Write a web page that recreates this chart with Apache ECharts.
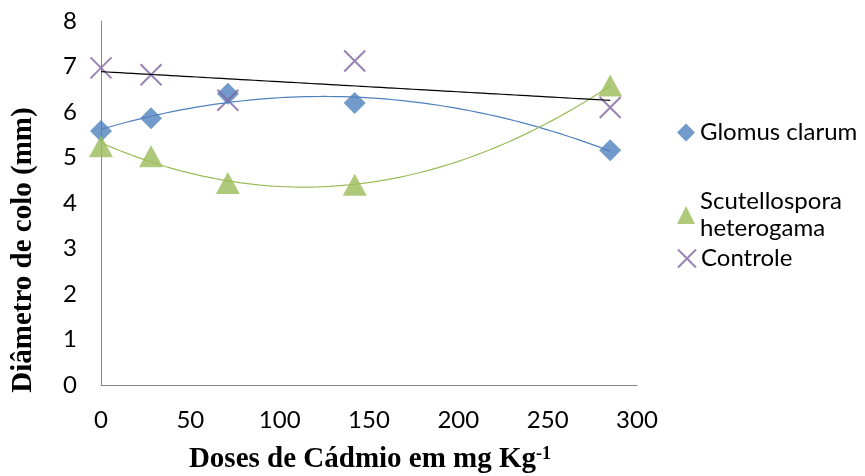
<!DOCTYPE html>
<html>
<head>
<meta charset="utf-8">
<script src="https://cdn.jsdelivr.net/npm/echarts@6/dist/echarts.min.js"></script>
<style>html,body{margin:0;padding:0;background:#fff}#c{width:865px;height:476px}</style>
</head>
<body>
<div id="c"></div>
<script>
var doses = [0, 28, 71, 142, 285];
var glomus = [5.58, 5.86, 6.40, 6.20, 5.16];
var scutello = [5.25, 5.03, 4.44, 4.40, 6.58];
var controle = [6.97, 6.82, 6.26, 7.12, 6.10];
var xTicks = {min: 0, max: 300, interval: 50};
var yTicks = {min: 0, max: 8, interval: 1};

function polyfit(xs, ys, deg) {
  var n = deg + 1, A = [], b = [];
  for (var i = 0; i < n; i++) {
    A.push([]); b.push(0);
    for (var j = 0; j < n; j++) {
      var s = 0; for (var k = 0; k < xs.length; k++) s += Math.pow(xs[k], i + j);
      A[i].push(s);
    }
    for (var k = 0; k < xs.length; k++) b[i] += ys[k] * Math.pow(xs[k], i);
  }
  for (var c = 0; c < n; c++) {
    var p = c; for (var r = c + 1; r < n; r++) if (Math.abs(A[r][c]) > Math.abs(A[p][c])) p = r;
    var t = A[c]; A[c] = A[p]; A[p] = t; var tb = b[c]; b[c] = b[p]; b[p] = tb;
    for (var r = c + 1; r < n; r++) {
      var f = A[r][c] / A[c][c];
      for (var j = c; j < n; j++) A[r][j] -= f * A[c][j];
      b[r] -= f * b[c];
    }
  }
  var co = new Array(n);
  for (var i = n - 1; i >= 0; i--) {
    var s = b[i]; for (var j = i + 1; j < n; j++) s -= A[i][j] * co[j];
    co[i] = s / A[i][i];
  }
  return co;
}
function trend(xs, ys, deg) {
  var co = polyfit(xs, ys, deg), out = [];
  var x0 = xs[0], x1 = xs[xs.length - 1], steps = 80;
  for (var i = 0; i <= steps; i++) {
    var x = x0 + (x1 - x0) * i / steps, y = 0;
    for (var j = 0; j < co.length; j++) y += co[j] * Math.pow(x, j);
    out.push([x, y]);
  }
  return out;
}
function pairs(xs, ys) { return xs.map(function (x, i) { return [x, ys[i]]; }); }

var BLUE = '#4F81BD', GREEN = '#9BBB59', PURPLE = '#8064A2';
var FONT = 'Lato';
var XPATH = 'path://M0,0L10,10M10,0L0,10';

var chart = echarts.init(document.getElementById('c'), null, {renderer: 'canvas'});
var legendText = {fontFamily: FONT, fontSize: 24, color: '#000', lineHeight: 27};
chart.setOption({
  animation: false,
  grid: {left: 101, right: 228, top: 21, bottom: 91, containLabel: false},
  xAxis: {
    type: 'value', min: xTicks.min, max: xTicks.max, interval: xTicks.interval,
    axisLine: {show: true, lineStyle: {color: '#868686', width: 1}},
    axisTick: {show: false},
    splitLine: {show: false},
    axisLabel: {fontFamily: FONT, fontSize: 24, color: '#000', margin: 23}
  },
  yAxis: {
    type: 'value', min: yTicks.min, max: yTicks.max, interval: yTicks.interval,
    axisLine: {show: true, lineStyle: {color: '#868686', width: 1}},
    axisTick: {show: false},
    splitLine: {show: false},
    axisLabel: {fontFamily: FONT, fontSize: 24, color: '#000', margin: 24}
  },
  legend: [
    {data: ['Glomus clarum'], left: 672, top: 114, orient: 'vertical', itemWidth: 18, itemHeight: 18, itemGap: 4, textStyle: legendText},
    {data: ['Scutellospora heterogama'], left: 672, top: 183, orient: 'vertical', itemWidth: 18, itemHeight: 18, itemGap: 4, textStyle: legendText,
      formatter: function () { return 'Scutellospora\nheterogama'; }},
    {data: ['Controle'], left: 672, top: 240, orient: 'vertical', itemWidth: 18, itemHeight: 18, itemGap: 4, textStyle: legendText}
  ],
  graphic: [
    {type: 'text', x: 24, y: 250, rotation: Math.PI / 2,
      style: {text: 'Diâmetro de colo (mm)', fontFamily: 'Liberation Serif', fontWeight: 'bold', fontSize: 29, fill: '#000', align: 'center', verticalAlign: 'middle'}},
    {type: 'text', x: 370, y: 460,
      style: {text: 'Doses de Cádmio em mg Kg{sup|-1}', fontFamily: 'Liberation Serif', fontWeight: 'bold', fontSize: 29, fill: '#000', align: 'center', verticalAlign: 'middle',
        rich: {sup: {fontFamily: 'Liberation Serif', fontWeight: 'bold', fontSize: 18, verticalAlign: 'top', fill: '#000'}}}}
  ],
  series: [
    {name: 'Glomus clarum', type: 'scatter', data: pairs(doses, glomus), symbol: 'diamond', symbolSize: 22, itemStyle: {color: BLUE}, z: 2},
    {name: 'Scutellospora heterogama', type: 'scatter', data: pairs(doses, scutello), symbol: 'triangle', symbolSize: [24, 22], itemStyle: {color: GREEN}, z: 2},
    {name: 'Controle', type: 'scatter', data: pairs(doses, controle), symbol: XPATH, symbolSize: 21, itemStyle: {color: 'rgba(0,0,0,0)', borderColor: PURPLE, borderWidth: 2}, z: 2},
    {name: 'tG', type: 'line', data: trend(doses, glomus, 2), showSymbol: false, symbol: 'none', smooth: false, lineStyle: {color: BLUE, width: 1.2}, z: 3, silent: true},
    {name: 'tS', type: 'line', data: trend(doses, scutello, 2), showSymbol: false, symbol: 'none', smooth: false, lineStyle: {color: GREEN, width: 1.2}, z: 3, silent: true},
    {name: 'tC', type: 'line', data: trend(doses, controle, 1), showSymbol: false, symbol: 'none', smooth: false, lineStyle: {color: '#000', width: 1.2}, z: 3, silent: true}
  ]
});
</script>
</body>
</html>
